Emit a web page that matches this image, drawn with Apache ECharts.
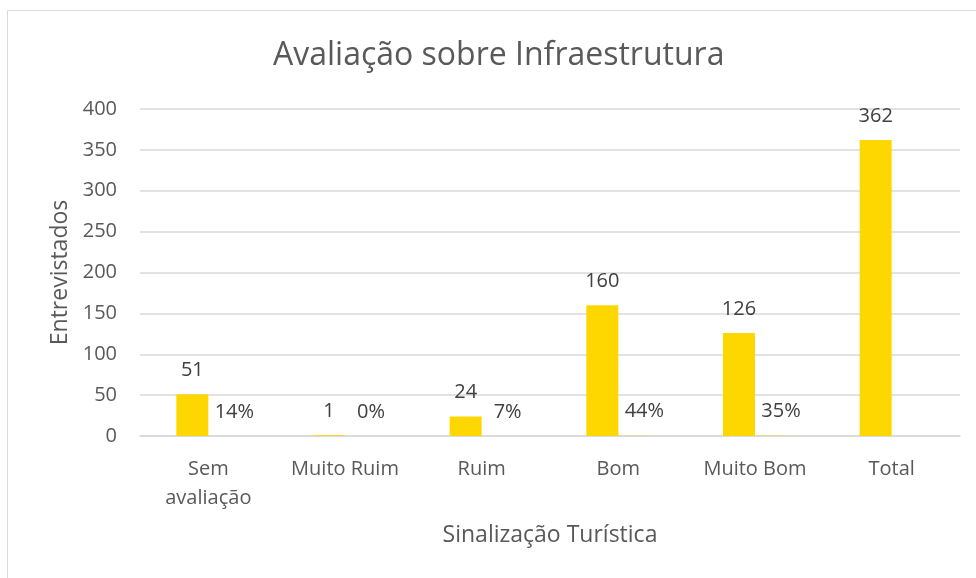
<!DOCTYPE html>
<html>
<head>
<meta charset="utf-8">
<script src="https://cdn.jsdelivr.net/npm/echarts@6/dist/echarts.min.js"></script>
<style>
  html, body { margin: 0; padding: 0; background: #fff; }
  #chart { width: 976px; height: 578px; }
</style>
</head>
<body>
<div id="chart"></div>
<script>
// dados
var categorias = ['Sem\navaliação', 'Muito Ruim', 'Ruim', 'Bom', 'Muito Bom', 'Total'];
var entrevistados = [51, 1, 24, 160, 126, 362];
var percentuais = [0.14, 0.00, 0.07, 0.44, 0.35, null];
var yTicks = { min: 0, max: 400, interval: 50 };

var fonte = '"Open Sans", "Noto Sans", sans-serif';
var cinza = '#595959';

var chart = echarts.init(document.getElementById('chart'));
chart.setOption({
    textStyle: { fontFamily: fonte },
    animation: false,
    title: {
        text: 'Avaliação sobre Infraestrutura',
        left: 268,
        top: 35,
        textStyle: { fontFamily: fonte, fontSize: 32, fontWeight: 'normal', color: cinza }
    },
    graphic: [{
        type: 'rect',
        shape: { x: 7.5, y: 10.5, width: 1100, height: 700 },
        style: { fill: 'none', stroke: '#d9d9d9', lineWidth: 1 },
        silent: true
    }],
    grid: { left: 140, right: 16, top: 109, bottom: 142 },
    xAxis: {
        type: 'category',
        data: categorias,
        name: 'Sinalização Turística',
        nameLocation: 'middle',
        nameGap: 88,
        nameTextStyle: { fontSize: 23, color: cinza, fontFamily: fonte },
        axisLine: { lineStyle: { color: '#d9d9d9', width: 1.5 } },
        axisTick: { show: false },
        axisLabel: { interval: 0, fontSize: 20, color: cinza, margin: 19, lineHeight: 29, fontFamily: fonte }
    },
    yAxis: {
        type: 'value',
        min: yTicks.min,
        max: yTicks.max,
        interval: yTicks.interval,
        name: 'Entrevistados',
        nameLocation: 'middle',
        nameGap: 67,
        nameTextStyle: { fontSize: 23, color: cinza, fontFamily: fonte },
        axisLine: { show: false },
        axisTick: { show: false },
        axisLabel: { fontSize: 20, color: cinza, margin: 23, fontFamily: fonte },
        splitLine: { lineStyle: { color: '#d9d9d9', width: 1.5 } }
    },
    series: [
        {
            type: 'bar',
            data: entrevistados,
            barWidth: 32,
            barGap: '0%',
            itemStyle: { color: '#FFD700' },
            label: {
                show: true, position: 'top', distance: 14,
                fontSize: 20, color: '#404040', fontFamily: fonte
            }
        },
        {
            type: 'bar',
            data: percentuais,
            barWidth: 32,
            itemStyle: { color: '#FFD700' },
            label: {
                show: true, position: 'top', distance: 14, offset: [10, 0],
                fontSize: 20, color: '#404040', fontFamily: fonte,
                formatter: function (p) {
                    return p.value == null ? '' : Math.round(p.value * 100) + '%';
                }
            }
        }
    ]
});
</script>
</body>
</html>
